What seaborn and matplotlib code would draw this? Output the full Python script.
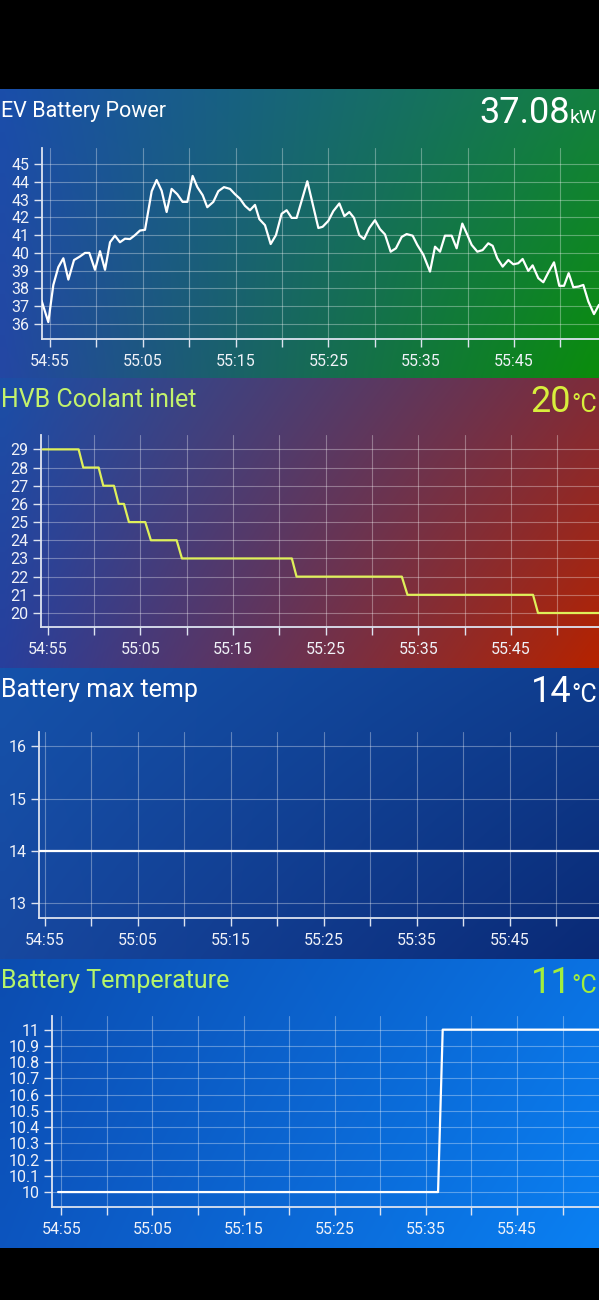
import numpy as np
import pandas as pd
import seaborn as sns
import matplotlib.pyplot as plt
from matplotlib.colors import to_rgb

sns.set_theme(style="dark")
plt.rcParams['font.family'] = ['Roboto', 'DejaVu Sans']

# --- data (seconds after 54:55) ---
ev_t = [-0.90, -0.18, 0.36, 0.90, 1.44, 1.98, 2.59, 3.23, 3.77, 4.24,
        4.85, 5.39, 5.93, 6.47, 7.00, 7.54, 8.08, 8.62, 9.16, 9.70,
        10.24, 10.96, 11.49, 12.03, 12.57, 13.11, 13.72, 14.29, 14.80, 15.37,
        15.88, 16.45, 16.95, 17.60, 18.14, 18.75, 19.40, 19.94, 20.47, 21.01,
        21.55, 22.09, 22.56, 23.17, 23.78, 24.35, 24.96, 25.50, 26.04, 26.58,
        27.73, 28.92, 29.38, 29.99, 30.53, 31.18, 31.72, 32.26, 32.76, 33.33,
        33.84, 34.41, 35.02, 35.56, 36.10, 36.71, 37.28, 37.90, 38.43, 39.08,
        39.58, 40.23, 40.95, 41.49, 42.03, 42.56, 43.28, 43.82, 44.43, 44.90,
        45.44, 46.05, 46.62, 47.23, 47.70, 48.20, 48.78, 49.39, 49.93, 50.46,
        50.93, 51.54, 52.01, 52.62, 53.16, 53.70, 54.31, 54.88, 55.39, 55.89,
        56.39, 56.97, 57.47, 58.01, 58.62, 59.16]
ev_kw = [37.31, 36.11, 38.2, 39.2, 39.7, 38.5, 39.6, 39.8, 40.0, 40.0,
         39.05, 40.1, 39.05, 40.6, 40.97, 40.6, 40.8, 40.78, 41.0, 41.26,
         41.3, 43.47, 44.1, 43.5, 42.3, 43.6, 43.3, 42.87, 42.87, 44.33,
         43.7, 43.25, 42.57, 42.87, 43.47, 43.7, 43.6, 43.3, 43.05, 42.65,
         42.4, 42.7, 41.9, 41.56, 40.5, 41.0, 42.2, 42.4, 41.97, 41.97,
         44.03, 41.4, 41.47, 41.8, 42.35, 42.78, 42.07, 42.3, 41.97, 41.0,
         40.78, 41.4, 41.84, 41.34, 41.04, 40.07, 40.26, 40.9, 41.06, 40.97,
         40.45, 39.9, 38.95, 40.35, 40.07, 40.97, 40.97, 40.26, 41.65, 41.1,
         40.45, 40.07, 40.16, 40.54, 40.4, 39.7, 39.23, 39.6, 39.36, 39.42,
         39.66, 38.99, 39.3, 38.58, 38.35, 38.9, 39.47, 38.15, 38.15, 38.86,
         38.07, 38.11, 38.2, 37.27, 36.56, 37.08]

coolant_t = [-0.54, 3.34, 3.84, 5.50, 6.00, 7.15, 7.66, 8.23, 8.77, 10.53,
             11.14, 13.92, 14.49, 26.35, 26.86, 38.22, 38.83, 52.38, 52.92, 59.5]
coolant_c = [29, 29, 28, 28, 27, 27, 26, 26, 25, 25,
             24, 24, 23, 23, 22, 22, 21, 21, 20, 20]

maxtemp_t = [-0.61, 59.57]
maxtemp_c = [14, 14]

battemp_t = [-0.36, 41.34, 41.85, 59.0]
battemp_c = [10, 10, 11, 11]

tick_secs = [0, 5, 10, 15, 20, 25, 30, 35, 40, 45, 50, 55]
tick_labels = ["54:55", "", "55:05", "", "55:15", "", "55:25", "", "55:35", "", "55:45", ""]

panels = [
    dict(title="EV Battery Power", value="37.08", unit="kW", title_fs=15.5, unit_fs=14,
         t=ev_t, y=ev_kw, yticks=list(range(36, 46)), ylabels=[str(v) for v in range(36, 46)],
         title_c="#ffffff", value_c="#ffffff", line_c="#ffffff",
         band=(89, 378), box=(42, 148, 339), xlim=(-0.86, 59.16), ylim=(35.16, 45.9),
         corners=["#1a4eaa", "#148040", "#2447a3", "#0a8c0c"]),
    dict(title="HVB Coolant inlet", value="20", unit="°C", title_fs=18, unit_fs=18,
         t=coolant_t, y=coolant_c, yticks=list(range(20, 30)), ylabels=[str(v) for v in range(20, 30)],
         title_c="#c3f26c", value_c="#d8ee3c", line_c="#dff05a",
         band=(378, 668), box=(41, 435, 627), xlim=(-0.72, 59.5), ylim=(19.23, 29.79),
         corners=["#1c4ea6", "#7e2c3a", "#283f9c", "#b52300"]),
    dict(title="Battery max temp", value="14", unit="°C", title_fs=18, unit_fs=18,
         t=maxtemp_t, y=maxtemp_c, yticks=[13, 14, 15, 16], ylabels=["13", "14", "15", "16"],
         title_c="#ffffff", value_c="#ffffff", line_c="#ffffff",
         band=(668, 959), box=(39, 732, 918), xlim=(-0.61, 59.57), ylim=(12.72, 16.27),
         corners=["#1552aa", "#0f3d8e", "#1748a0", "#0a2a76"]),
    dict(title="Battery Temperature", value="11", unit="°C", title_fs=18, unit_fs=18,
         t=battemp_t, y=battemp_c,
         yticks=[10, 10.1, 10.2, 10.3, 10.4, 10.5, 10.6, 10.7, 10.8, 10.9, 11],
         ylabels=["10", "10.1", "10.2", "10.3", "10.4", "10.5", "10.6", "10.7", "10.8", "10.9", "11"],
         title_c="#b6f46a", value_c="#a2ee3c", line_c="#ffffff",
         band=(959, 1248), box=(52, 1016, 1207), xlim=(-1.02, 59.0), ylim=(9.908, 11.084),
         corners=["#0c4db0", "#0a72e2", "#0d55bf", "#0a80f2"]),
]

W, H = 599, 1300
fig = plt.figure(figsize=(W / 100, H / 100), dpi=100, facecolor="black")


def gradient(corners, n=64):
    tl, tr, bl, br = [np.array(to_rgb(c)) for c in corners]
    u = np.linspace(0, 1, n)[None, :, None]
    v = np.linspace(0, 1, n)[:, None, None]
    top = tl * (1 - u) + tr * u
    bot = bl * (1 - u) + br * u
    return top * (1 - v) + bot * v


for p in panels:
    y0, y1 = p["band"]
    bg = fig.add_axes([0, (H - y1) / H, 1, (y1 - y0) / H])
    bg.imshow(gradient(p["corners"]), extent=[0, 1, 0, 1], aspect="auto", interpolation="bilinear")
    bg.set_axis_off()

    left, top, bottom = p["box"]
    ax = fig.add_axes([left / W, (H - bottom) / H, (W - left) / W, (bottom - top) / H])
    ax.patch.set_alpha(0)
    df = pd.DataFrame({"t": p["t"], "v": p["y"]})
    sns.lineplot(data=df, x="t", y="v", ax=ax, color=p["line_c"], lw=1.6,
                 estimator=None, sort=False, zorder=5)
    ax.set_xlim(*p["xlim"])
    ax.set_ylim(*p["ylim"])
    ax.set_xticks(tick_secs)
    ax.set_xticklabels(tick_labels)
    ax.set_yticks(p["yticks"])
    ax.set_yticklabels(p["ylabels"])
    ax.set_xlabel("")
    ax.set_ylabel("")
    ax.grid(True, color="white", alpha=0.33, lw=0.8)
    for s in ["top", "right"]:
        ax.spines[s].set_visible(False)
    for s in ["left", "bottom"]:
        ax.spines[s].set_visible(True)
        ax.spines[s].set_color("#dde3f0")
        ax.spines[s].set_linewidth(1.3)
    ax.tick_params(axis="both", colors="#dde3f0", labelcolor="#f0f2f8", labelsize=11.5,
                   length=6, width=1, direction="out")
    ax.tick_params(axis="x", pad=5, bottom=True)
    ax.tick_params(axis="y", pad=3, left=True)

    # header texts
    fig.text(1 / W, 1 - (y0 + 22) / H, p["title"], color=p["title_c"],
             fontsize=p["title_fs"], ha="left", va="center")
    base_y = 1 - (y0 + 34) / H
    unit = fig.text(597 / W, base_y, p["unit"], color=p["value_c"],
                    fontsize=p["unit_fs"], ha="right", va="baseline")
    ax.annotate(p["value"], xy=(0, base_y), xycoords=(unit, "figure fraction"),
                color=p["value_c"], fontsize=26, ha="right", va="baseline",
                annotation_clip=False)

fig.savefig("out.png", dpi=100, facecolor="black")
